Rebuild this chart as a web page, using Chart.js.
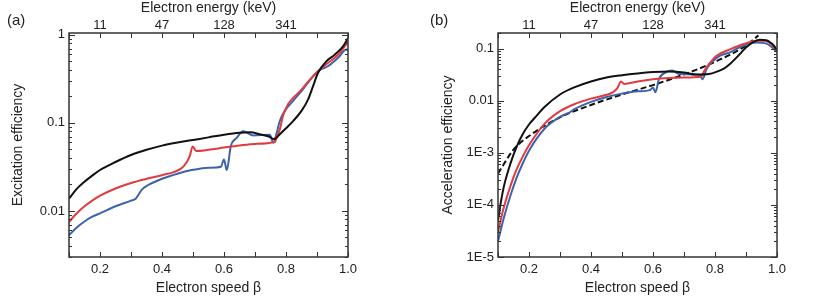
<!DOCTYPE html>
<html>
<head>
<meta charset="utf-8">
<script src="https://cdn.jsdelivr.net/npm/chart.js@4/dist/chart.umd.min.js"></script>
<style>
  html, body { margin: 0; padding: 0; background: #fff; }
  body { width: 830px; height: 299px; position: relative; overflow: hidden; font-family: "Liberation Sans", Arial, sans-serif; }
  .panel { position: absolute; top: 0; height: 299px; }
  .tag { position: absolute; top: 11px; font-size: 15px; color: #222; }
</style>
</head>
<body>
<div class="panel" style="left:0;width:400px"><canvas id="chartA"></canvas></div>
<div class="panel" style="left:400px;width:430px"><canvas id="chartB"></canvas></div>
<div class="tag" style="left:7px">(a)</div>
<div class="tag" style="left:430px">(b)</div>
<script>
// shared axes
const speedTicks = [0.2, 0.4, 0.6, 0.8, 1.0];
const energyTickSpeed = [0.2, 0.4, 0.6, 0.8];
const energyTickLabels = ['11', '47', '128', '341'];

// (a) excitation efficiency
const yTicksA = [0.01, 0.1, 1];
const yLabelsA = ['0.01', '0.1', '1'];

const betaBlackA = [0.1, 0.125, 0.15, 0.175, 0.2, 0.25, 0.3, 0.35, 0.4, 0.45, 0.5, 0.55, 0.6, 0.65, 0.685, 0.715, 0.745, 0.762, 0.78, 0.8, 0.823, 0.85, 0.871, 0.887, 0.903, 0.93, 0.957, 0.984, 1.0];
const effBlackA = [0.0138, 0.0178, 0.0215, 0.0252, 0.0292, 0.036, 0.0432, 0.0495, 0.0552, 0.0598, 0.064, 0.0685, 0.0735, 0.0775, 0.0785, 0.0745, 0.07, 0.0655, 0.0745, 0.087, 0.105, 0.137, 0.184, 0.26, 0.369, 0.5, 0.595, 0.74, 0.92];

const betaRedA = [0.1, 0.125, 0.15, 0.175, 0.2, 0.25, 0.3, 0.35, 0.4, 0.44, 0.465, 0.48, 0.49, 0.499, 0.51, 0.55, 0.6, 0.65, 0.7, 0.765, 0.769, 0.78, 0.79, 0.806, 0.823, 0.85, 0.877, 0.903, 0.935, 0.968, 1.0];
const effRedA = [0.0075, 0.0094, 0.0113, 0.0131, 0.0149, 0.018, 0.0208, 0.0232, 0.0255, 0.0278, 0.031, 0.036, 0.0425, 0.054, 0.048, 0.0495, 0.0525, 0.0555, 0.0578, 0.061, 0.068, 0.084, 0.119, 0.162, 0.192, 0.239, 0.31, 0.386, 0.478, 0.595, 0.83];

const betaBlueA = [0.1, 0.125, 0.15, 0.175, 0.2, 0.25, 0.3, 0.315, 0.325, 0.335, 0.35, 0.4, 0.45, 0.5, 0.55, 0.59, 0.6, 0.609, 0.622, 0.641, 0.662, 0.695, 0.748, 0.759, 0.77, 0.78, 0.796, 0.823, 0.85, 0.903, 0.935, 0.968, 0.995, 1.0];
const effBlueA = [0.0053, 0.0065, 0.0076, 0.0086, 0.0094, 0.0113, 0.0131, 0.0138, 0.0155, 0.0175, 0.0192, 0.0232, 0.0265, 0.0293, 0.031, 0.0318, 0.0385, 0.0291, 0.0545, 0.0677, 0.0805, 0.072, 0.0736, 0.0596, 0.077, 0.105, 0.137, 0.178, 0.23, 0.386, 0.44, 0.55, 0.68, 0.66];

// (b) acceleration efficiency
const yTicksB = [1e-5, 1e-4, 1e-3, 0.01, 0.1];
const yLabelsB = ['1E-5', '1E-4', '1E-3', '0.01', '0.1'];

const betaBlackB = [0.1, 0.11, 0.12, 0.14, 0.16, 0.18, 0.2, 0.225, 0.25, 0.3, 0.35, 0.4, 0.45, 0.5, 0.55, 0.6, 0.65, 0.7, 0.74, 0.78, 0.81, 0.83, 0.85, 0.87, 0.9, 0.92, 0.945, 0.965, 0.98, 0.99, 1.0];
const effBlackB = [5e-5, 1.2e-4, 2.4e-4, 6.2e-4, 1.3e-3, 2.3e-3, 3.5e-3, 5.2e-3, 7.6e-3, 0.0132, 0.0185, 0.0235, 0.028, 0.031, 0.0335, 0.0355, 0.0365, 0.035, 0.0318, 0.0325, 0.037, 0.042, 0.052, 0.068, 0.105, 0.13, 0.148, 0.145, 0.13, 0.115, 0.092];

const betaRedB = [0.1, 0.11, 0.12, 0.14, 0.16, 0.18, 0.2, 0.25, 0.3, 0.35, 0.4, 0.45, 0.47, 0.485, 0.497, 0.507, 0.55, 0.6, 0.65, 0.7, 0.755, 0.766, 0.78, 0.805, 0.85, 0.89, 0.935, 0.96, 0.98, 0.99, 1.0];
const effRedB = [3e-5, 5.5e-5, 9.5e-5, 2.3e-4, 4.8e-4, 8.5e-4, 1.4e-3, 3.6e-3, 6.3e-3, 8.8e-3, 0.011, 0.013, 0.0145, 0.0175, 0.0235, 0.021, 0.0235, 0.026, 0.0275, 0.028, 0.029, 0.038, 0.05, 0.073, 0.098, 0.122, 0.142, 0.142, 0.125, 0.11, 0.089];

const betaBlueB = [0.1, 0.11, 0.12, 0.14, 0.16, 0.18, 0.2, 0.25, 0.3, 0.32, 0.33, 0.345, 0.4, 0.45, 0.5, 0.55, 0.59, 0.6, 0.608, 0.619, 0.641, 0.662, 0.686, 0.75, 0.76, 0.773, 0.789, 0.815, 0.848, 0.89, 0.934, 0.96, 0.98, 1.0];
const effBlueB = [2e-5, 3.5e-5, 6e-5, 1.5e-4, 3.3e-4, 6.3e-4, 1.1e-3, 2.9e-3, 4.9e-3, 5.6e-3, 5.9e-3, 6.8e-3, 9.5e-3, 0.0118, 0.0137, 0.0152, 0.016, 0.018, 0.0145, 0.026, 0.035, 0.038, 0.0325, 0.0315, 0.026, 0.041, 0.0546, 0.073, 0.085, 0.114, 0.132, 0.128, 0.112, 0.085];

const betaFitB = [0.1, 0.15, 0.2, 0.3, 0.4, 0.5, 0.6, 0.7, 0.8, 0.9, 0.94];
const effFitB = [4e-4, 1.15e-3, 2.1e-3, 4.8e-3, 8.3e-3, 0.0132, 0.02, 0.032, 0.056, 0.115, 0.18];

const textColor = '#222';
const tickFont = { family: "'Liberation Sans', Arial, sans-serif", size: 13 };
const titleFont = { family: "'Liberation Sans', Arial, sans-serif", size: 14 };

function pts(xs, ys) {
  return xs.map((x, i) => ({ x: x, y: ys[i] }));
}

function line(xs, ys, color, dashed) {
  return {
    data: pts(xs, ys),
    borderColor: color,
    borderWidth: 2,
    borderDash: dashed ? [6, 3] : [],
    pointRadius: 0,
    fill: false,
    cubicInterpolationMode: 'monotone'
  };
}

// frame and inward ticks on all four sides
const frameTicks = {
  id: 'frameTicks',
  afterDraw(chart) {
    const { ctx, chartArea: a, scales } = chart;
    const xs = scales.x, ys = scales.y;
    ctx.save();
    ctx.strokeStyle = '#333';
    ctx.lineWidth = 1;
    ctx.beginPath();
    for (let i = 1; i <= 10; i++) {
      const px = Math.round(xs.getPixelForValue(i / 10)) + 0.5;
      ctx.moveTo(px, a.bottom); ctx.lineTo(px, a.bottom - 5);
      ctx.moveTo(px, a.top); ctx.lineTo(px, a.top + 5);
    }
    const e0 = Math.floor(Math.log10(ys.min)), e1 = Math.ceil(Math.log10(ys.max));
    for (let e = e0; e <= e1; e++) {
      for (let m = 1; m <= 9; m++) {
        const v = m * Math.pow(10, e);
        if (v < ys.min || v > ys.max) continue;
        const py = Math.round(ys.getPixelForValue(v)) + 0.5;
        const len = m === 1 ? 6 : 3;
        ctx.moveTo(a.left, py); ctx.lineTo(a.left + len, py);
        ctx.moveTo(a.right, py); ctx.lineTo(a.right - len, py);
      }
    }
    ctx.stroke();
    ctx.lineWidth = 1.5;
    ctx.strokeRect(a.left, a.top, a.right - a.left, a.bottom - a.top);
    ctx.restore();
  }
};

function makeChart(id, datasets, yMin, yMax, yTicks, yLabels, yTitle, yWidth, yTitlePad, rightPad) {
  return new Chart(document.getElementById(id), {
    type: 'line',
    data: { datasets: datasets },
    options: {
      responsive: true,
      maintainAspectRatio: false,
      animation: false,
      layout: { padding: { left: 0, right: rightPad, top: 0, bottom: 0 } },
      plugins: { legend: { display: false }, tooltip: { enabled: false } },
      scales: {
        x: {
          type: 'linear', position: 'bottom', min: 0.1, max: 1.0,
          afterBuildTicks: s => { s.ticks = speedTicks.map(v => ({ value: v })); },
          afterFit: s => { s.height = 42; },
          grid: { display: false, drawTicks: false }, border: { display: false },
          ticks: { padding: 5, color: textColor, font: tickFont, maxRotation: 0, callback: v => v.toFixed(1) },
          title: { display: true, text: 'Electron speed β', color: textColor, font: titleFont, padding: { top: 0, bottom: 2 } }
        },
        xTop: {
          type: 'linear', position: 'top', min: 0.1, max: 1.0,
          afterBuildTicks: s => { s.ticks = energyTickSpeed.map(v => ({ value: v })); },
          afterFit: s => { s.height = 33; },
          grid: { display: false, drawTicks: false }, border: { display: false },
          ticks: { padding: 0, color: textColor, font: tickFont, maxRotation: 0, callback: (v, i) => energyTickLabels[i] },
          title: { display: true, text: 'Electron energy (keV)', color: textColor, font: titleFont, padding: { top: 0, bottom: 0 } }
        },
        y: {
          type: 'logarithmic', position: 'left', min: yMin, max: yMax,
          afterBuildTicks: s => { s.ticks = yTicks.map(v => ({ value: v })); },
          afterFit: s => { s.width = yWidth; },
          grid: { display: false, drawTicks: false }, border: { display: false },
          ticks: { padding: 4, color: textColor, font: tickFont, callback: (v, i) => yLabels[i] },
          title: { display: true, text: yTitle, color: textColor, font: titleFont, padding: { top: yTitlePad, bottom: 0 } }
        }
      }
    },
    plugins: [frameTicks]
  });
}

makeChart('chartA', [
  line(betaBlackA, effBlackA, '#111111'),
  line(betaRedA, effRedA, '#e23b3f'),
  line(betaBlueA, effBlueA, '#3d63ab')
], 0.003, 1.05, yTicksA, yLabelsA, 'Excitation efficiency', 69, 10, 52);

makeChart('chartB', [
  line(betaBlackB, effBlackB, '#111111'),
  line(betaRedB, effRedB, '#e23b3f'),
  line(betaBlueB, effBlueB, '#3d63ab'),
  line(betaFitB, effFitB, '#111111', true)
], 1e-5, 0.2, yTicksB, yLabelsB, 'Acceleration efficiency', 98, 40, 53);
</script>
</body>
</html>
